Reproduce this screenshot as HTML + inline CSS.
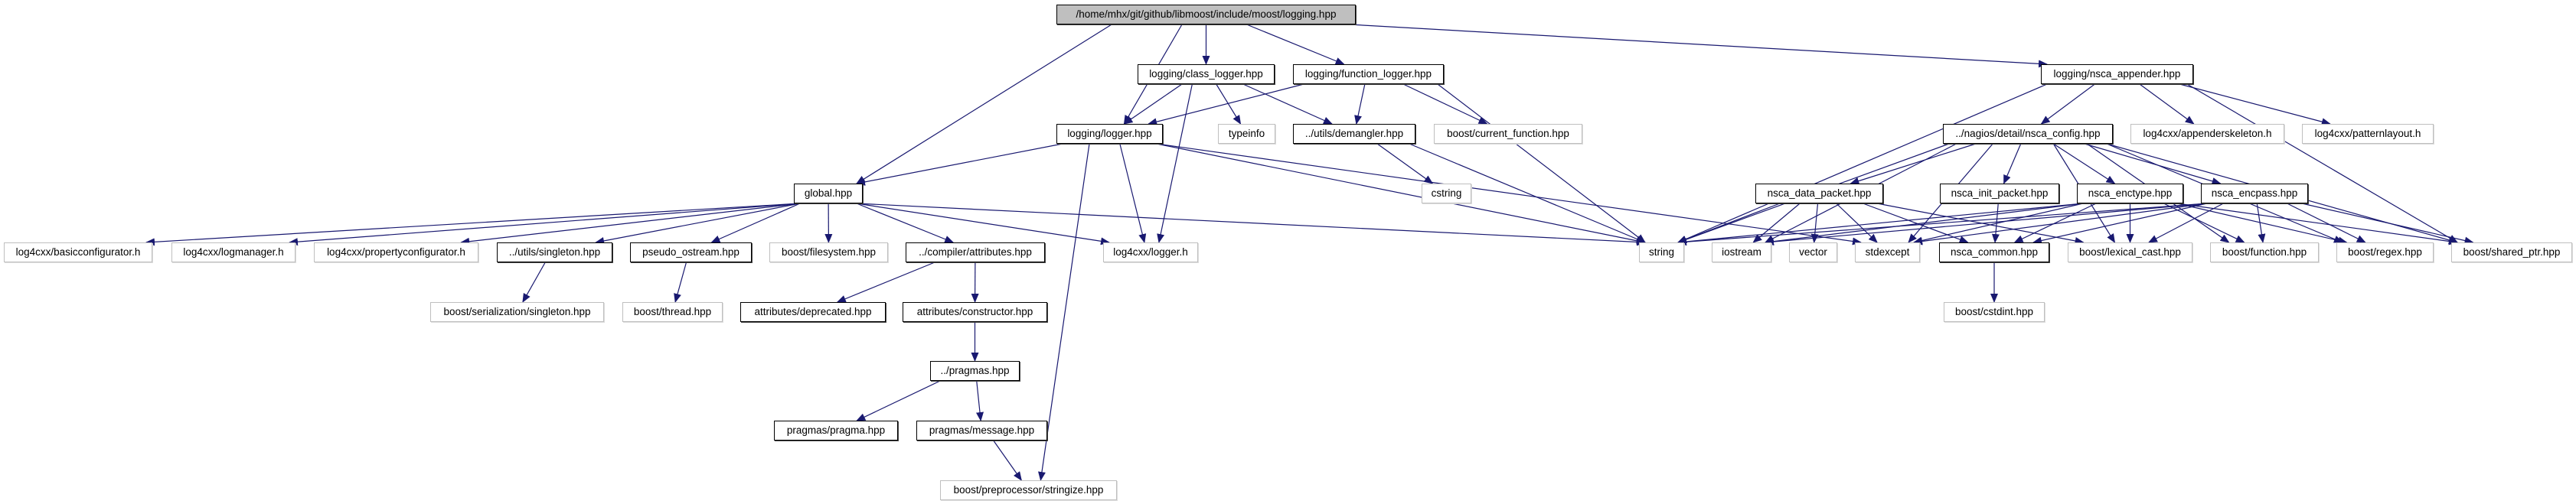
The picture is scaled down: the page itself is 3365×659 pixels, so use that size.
<!DOCTYPE html>
<html><head><meta charset="utf-8"><style>
html,body{margin:0;padding:0;background:#fff;}
#c{position:relative;width:3365px;height:659px;overflow:hidden;}
.n{position:absolute;height:26px;box-sizing:border-box;border:1px solid #000;background:#fff;font:13.5px "Liberation Sans","DejaVu Sans",sans-serif;line-height:24px;text-align:center;white-space:nowrap;color:#000;box-shadow:1px 1px 0 #444;}
.g{border-color:#bfbfbf;box-shadow:1px 1px 0 #ddd;}
.top{background:#bfbfbf;}
svg{position:absolute;left:0;top:0;}
</style></head><body><div id="c">
<svg id="s" width="3365" height="659"><defs><marker id="a" markerWidth="12" markerHeight="10" refX="11" refY="5" orient="auto" markerUnits="userSpaceOnUse"><path d="M0,0 L12,5 L0,10 z" fill="#191970"/></marker></defs></svg>
<div class="n top" style="left:1380px;top:6px;width:391px">/home/mhx/git/github/libmoost/include/moost/logging.hpp</div>
<div class="n" style="left:1486px;top:84px;width:179px">logging/class_logger.hpp</div>
<div class="n" style="left:1689px;top:84px;width:197px">logging/function_logger.hpp</div>
<div class="n" style="left:2666px;top:84px;width:199px">logging/nsca_appender.hpp</div>
<div class="n" style="left:1380px;top:162px;width:139px">logging/logger.hpp</div>
<div class="n g" style="left:1591px;top:162px;width:75px">typeinfo</div>
<div class="n" style="left:1689px;top:162px;width:160px">../utils/demangler.hpp</div>
<div class="n g" style="left:1873px;top:162px;width:194px">boost/current_function.hpp</div>
<div class="n" style="left:2538px;top:162px;width:222px">../nagios/detail/nsca_config.hpp</div>
<div class="n g" style="left:2783px;top:162px;width:201px">log4cxx/appenderskeleton.h</div>
<div class="n g" style="left:3007px;top:162px;width:172px">log4cxx/patternlayout.h</div>
<div class="n" style="left:1037px;top:240px;width:90px">global.hpp</div>
<div class="n g" style="left:1857px;top:240px;width:65px">cstring</div>
<div class="n" style="left:2293px;top:240px;width:167px">nsca_data_packet.hpp</div>
<div class="n" style="left:2534px;top:240px;width:156px">nsca_init_packet.hpp</div>
<div class="n" style="left:2713px;top:240px;width:139px">nsca_enctype.hpp</div>
<div class="n" style="left:2875px;top:240px;width:140px">nsca_encpass.hpp</div>
<div class="n g" style="left:5px;top:317px;width:194px">log4cxx/basicconfigurator.h</div>
<div class="n g" style="left:224px;top:317px;width:162px">log4cxx/logmanager.h</div>
<div class="n g" style="left:410px;top:317px;width:215px">log4cxx/propertyconfigurator.h</div>
<div class="n" style="left:649px;top:317px;width:151px">../utils/singleton.hpp</div>
<div class="n" style="left:823px;top:317px;width:159px">pseudo_ostream.hpp</div>
<div class="n g" style="left:1005px;top:317px;width:155px">boost/filesystem.hpp</div>
<div class="n" style="left:1183px;top:317px;width:182px">../compiler/attributes.hpp</div>
<div class="n g" style="left:1441px;top:317px;width:124px">log4cxx/logger.h</div>
<div class="n g" style="left:2141px;top:317px;width:59px">string</div>
<div class="n g" style="left:2236px;top:317px;width:78px">iostream</div>
<div class="n g" style="left:2337px;top:317px;width:63px">vector</div>
<div class="n g" style="left:2423px;top:317px;width:85px">stdexcept</div>
<div class="n" style="left:2533px;top:317px;width:144px">nsca_common.hpp</div>
<div class="n g" style="left:2701px;top:317px;width:163px">boost/lexical_cast.hpp</div>
<div class="n g" style="left:2887px;top:317px;width:142px">boost/function.hpp</div>
<div class="n g" style="left:3052px;top:317px;width:127px">boost/regex.hpp</div>
<div class="n g" style="left:3202px;top:317px;width:158px">boost/shared_ptr.hpp</div>
<div class="n g" style="left:562px;top:395px;width:227px">boost/serialization/singleton.hpp</div>
<div class="n g" style="left:813px;top:395px;width:131px">boost/thread.hpp</div>
<div class="n" style="left:967px;top:395px;width:190px">attributes/deprecated.hpp</div>
<div class="n" style="left:1179px;top:395px;width:189px">attributes/constructor.hpp</div>
<div class="n g" style="left:2539px;top:395px;width:132px">boost/cstdint.hpp</div>
<div class="n" style="left:1215px;top:472px;width:117px">../pragmas.hpp</div>
<div class="n" style="left:1011px;top:550px;width:162px">pragmas/pragma.hpp</div>
<div class="n" style="left:1197px;top:550px;width:171px">pragmas/message.hpp</div>
<div class="n g" style="left:1228px;top:628px;width:231px">boost/preprocessor/stringize.hpp</div>
</div>
<script>
var N={top:[1380,1771,6],cl:[1486,1665,84],fl:[1689,1886,84],na:[2666,2865,84],lg:[1380,1519,162],ti:[1591,1666,162],dm:[1689,1849,162],cf:[1873,2067,162],nc:[2538,2760,162],as:[2783,2984,162],pl:[3007,3179,162],gl:[1037,1127,240],cs:[1857,1922,240],dp:[2293,2460,240],ip:[2534,2690,240],et:[2713,2852,240],ep:[2875,3015,240],bc:[5,199,317],lm:[224,386,317],pc:[410,625,317],sg:[649,800,317],po:[823,982,317],fs:[1005,1160,317],at:[1183,1365,317],lh:[1441,1565,317],st:[2141,2200,317],io:[2236,2314,317],ve:[2337,2400,317],se:[2423,2508,317],cm:[2533,2677,317],lc:[2701,2864,317],fn:[2887,3029,317],rx:[3052,3179,317],sp:[3202,3360,317],ss:[562,789,395],th:[813,944,395],de:[967,1157,395],co:[1179,1368,395],ci:[2539,2671,395],pr:[1215,1332,472],pg:[1011,1173,550],ms:[1197,1368,550],sz:[1228,1459,628]};
var E="top cl,top fl,top na,top lg,top gl,cl lg,cl ti,cl dm,cl lh,fl lg,fl dm,fl cf,fl st,lg gl,lg lh,lg sz,lg st,lg se,dm cs,dm st,gl bc,gl lm,gl pc,gl sg,gl po,gl fs,gl at,gl lh,gl st,sg ss,po th,at de,at co,co pr,pr pg,pr ms,ms sz,na st,na nc,na as,na pl,na sp,nc st,nc io,nc dp,nc se,nc ip,nc et,nc ep,nc lc,nc fn,nc rx,nc sp,dp st,dp io,dp ve,dp se,dp cm,dp lc,ip cm,et st,et io,et se,et cm,et lc,et fn,et rx,et sp,ep st,ep io,ep se,ep cm,ep lc,ep fn,ep rx,ep sp,cm ci".split(",");
var s=document.getElementById("s"),h="";
function cl(v,a,b){return Math.max(a,Math.min(b,v));}
E.forEach(function(e){var p=e.split(" "),a=N[p[0]],b=N[p[1]];
var ac=(a[0]+a[1])/2,bc=(b[0]+b[1])/2;
var sx=cl(ac+(bc-ac)*0.25,a[0]+8,a[1]-8),sy=a[2]+26;
var tx=cl(bc+(ac-bc)*0.15,b[0]+8,b[1]-8),ty=b[2];
h+='<line x1="'+sx+'" y1="'+sy+'" x2="'+tx+'" y2="'+ty+'" stroke="#191970" stroke-width="1.2" marker-end="url(#a)"/>';});
s.insertAdjacentHTML("beforeend",h);
</script>
</body></html>
